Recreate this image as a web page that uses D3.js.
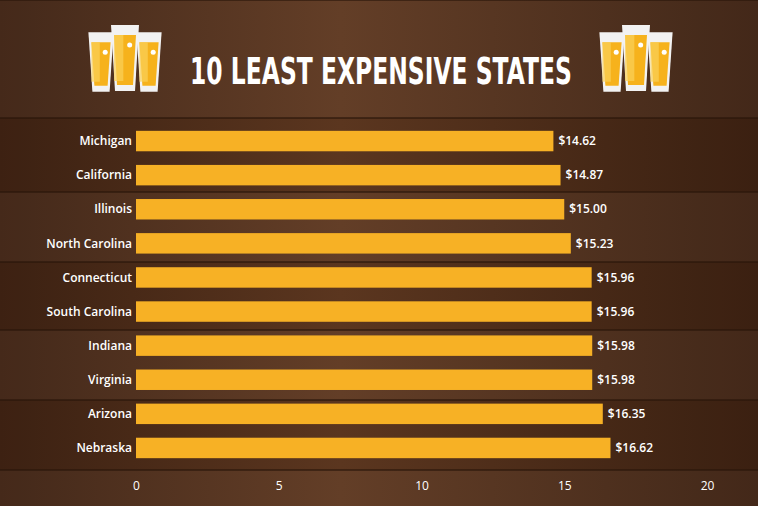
<!DOCTYPE html>
<html><head><meta charset="utf-8">
<script src="https://cdn.jsdelivr.net/npm/d3@7"></script>
<style>body{margin:0;background:#4a2a16}svg{display:block}</style>
</head><body><svg id="c" width="758" height="506"></svg>
<script>
const states=["Michigan","California","Illinois","North Carolina","Connecticut","South Carolina","Indiana","Virginia","Arizona","Nebraska"];
const prices=[14.62,14.87,15.00,15.23,15.96,15.96,15.98,15.98,16.35,16.62];
const ticks=[0,5,10,15,20];
const svg=d3.select("#c");
const defs=svg.append("defs");
const g=defs.append("linearGradient").attr("id","wood").attr("x1",0).attr("x2",1).attr("y1",0).attr("y2",0);
g.append("stop").attr("offset","0%").attr("stop-color","#3f2313");
g.append("stop").attr("offset","45%").attr("stop-color","#5e3820");
g.append("stop").attr("offset","100%").attr("stop-color","#3d2212");
svg.append("rect").attr("width",758).attr("height",506).attr("fill","url(#wood)");
const planks=[0,118,192,262,330,400,470];
planks.forEach((y,i)=>{
  svg.append("rect").attr("x",0).attr("y",y).attr("width",758).attr("height",(planks[i+1]||506)-y)
    .attr("fill",i%2?"#000":"#fff").attr("opacity",0.03);
  svg.append("line").attr("x1",0).attr("x2",758).attr("y1",y).attr("y2",y).attr("stroke","#2a160a").attr("stroke-width",2).attr("opacity",0.6);
});
const x=d3.scaleLinear().domain([0,20]).range([136,707]);
const y=d3.scaleBand().domain(states).range([124,465]).paddingInner(0.4).paddingOuter(0.2);
svg.selectAll(".bar").data(states).join("rect").attr("x",x(0)).attr("y",d=>y(d))
  .attr("width",(d,i)=>x(prices[i])-x(0)).attr("height",y.bandwidth()).attr("fill","#f7b125");
svg.selectAll(".lab").data(states).join("text").attr("x",x(0)-4).attr("y",d=>y(d)+y.bandwidth()/2)
  .attr("dy","0.35em").attr("text-anchor","end").attr("fill","#fff").attr("font-family","Open Sans")
  .attr("font-size",12).attr("font-weight",600).text(d=>d);
svg.selectAll(".val").data(states).join("text").attr("x",(d,i)=>x(prices[i])+5).attr("y",d=>y(d)+y.bandwidth()/2)
  .attr("dy","0.35em").attr("fill","#fff").attr("font-family","Open Sans")
  .attr("font-size",12).attr("font-weight",600).text((d,i)=>"$"+prices[i].toFixed(2));
const ax=svg.append("g").attr("transform","translate(0,478)").call(d3.axisBottom(x).tickValues(ticks).tickSize(0));
ax.select(".domain").remove();
ax.selectAll("text").attr("fill","#fff").attr("font-family","Open Sans").attr("font-size",12);
const title=svg.append("text").attr("x",0).attr("y",0).attr("text-anchor","middle").attr("fill","#fff")
  .attr("font-family","DejaVu Sans").attr("font-weight","bold").attr("font-size",38)
  .text("10 LEAST EXPENSIVE STATES");
const tw=title.node().getComputedTextLength();
title.attr("transform",`translate(381,84) scale(${382/tw},1)`);
function beers(cx){
  const gg=svg.append("g").attr("transform",`translate(${cx},58)`);
  [[-24,4,0.9],[24,4,0.9],[0,0,1]].forEach(([dx,dy,s])=>{
    const w=28*s,h=66*s,t=-h/2+dy;
    const m=gg.append("g").attr("transform",`translate(${dx},0)`);
    m.append("path").attr("d",`M${-w/2},${t} L${w/2},${t} L${w/2-4},${t+h} L${-w/2+4},${t+h}Z`).attr("fill","#f2f2f2");
    m.append("path").attr("d",`M${-w/2+3},${t+10} L${w/2-3},${t+10} L${w/2-6},${t+h-6} L${-w/2+6},${t+h-6}Z`).attr("fill","#f6b21c");
    m.append("rect").attr("x",-w/2+3).attr("y",t+10).attr("width",w/3).attr("height",h-20).attr("fill","#fbd25a").attr("opacity",0.7);
    m.append("circle").attr("cx",w/6).attr("cy",t+20).attr("r",2.5).attr("fill","#fff");
  });
}
beers(125);beers(636);
</script></body></html>
